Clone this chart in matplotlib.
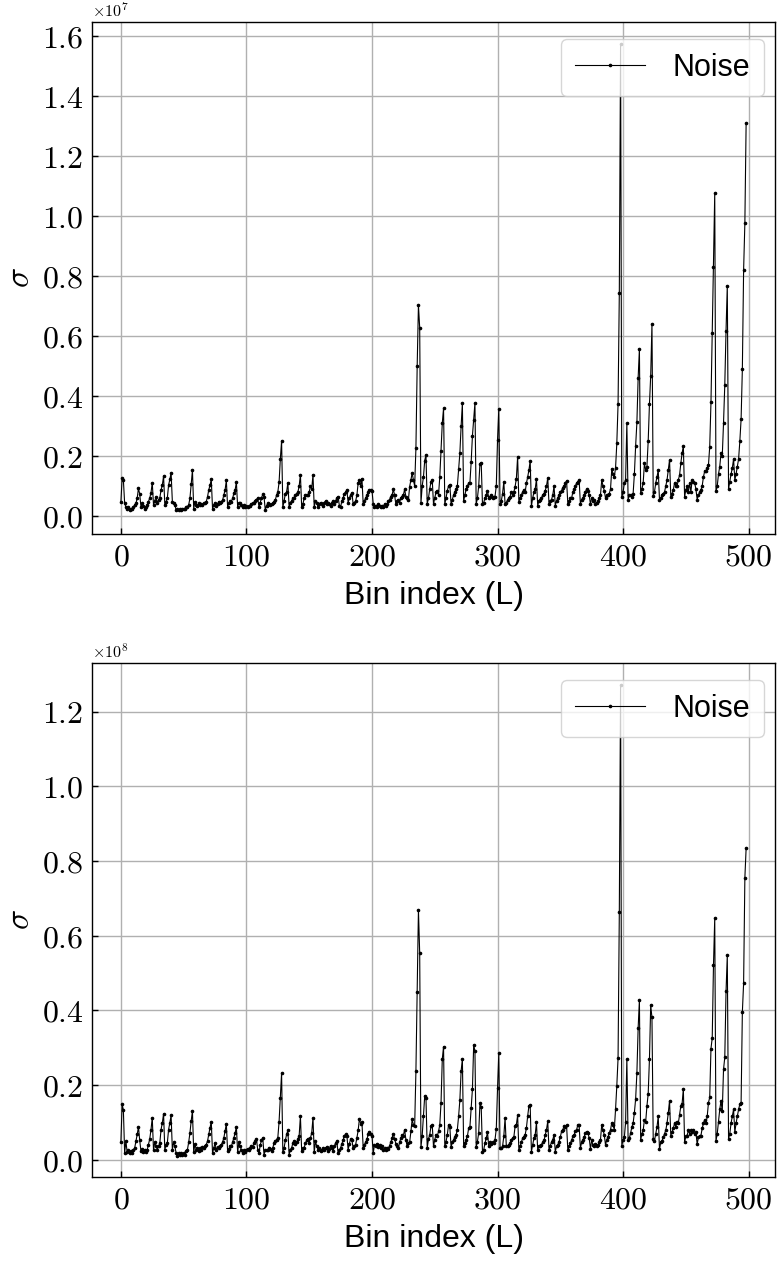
import numpy as np
import matplotlib
matplotlib.use('Agg')
import matplotlib.pyplot as plt
from matplotlib.ticker import FuncFormatter, MultipleLocator

plt.rcParams['mathtext.fontset'] = 'cm'
plt.rcParams['font.family'] = ['Liberation Sans', 'DejaVu Sans']

# ── data: noise sigma per bin (top panel in 1e7, bottom panel in 1e8) ──
sigma_top_e7 = [
    0.046, 0.126, 0.120, 0.042, 0.030, 0.022, 0.030, 0.020, 0.025, 0.022,
    0.030, 0.037, 0.042, 0.060, 0.092, 0.073, 0.030, 0.042, 0.033, 0.025,
    0.030, 0.037, 0.048, 0.060, 0.078, 0.111, 0.037, 0.050, 0.064, 0.044,
    0.053, 0.060, 0.087, 0.103, 0.133, 0.037, 0.048, 0.060, 0.103, 0.122,
    0.144, 0.048, 0.042, 0.037, 0.020, 0.022, 0.020, 0.022, 0.020, 0.025,
    0.022, 0.022, 0.029, 0.031, 0.037, 0.059, 0.107, 0.153, 0.025, 0.048,
    0.037, 0.033, 0.042, 0.037, 0.040, 0.037, 0.042, 0.044, 0.048, 0.064,
    0.087, 0.103, 0.122, 0.025, 0.037, 0.044, 0.033, 0.040, 0.048, 0.042,
    0.048, 0.053, 0.070, 0.087, 0.119, 0.031, 0.042, 0.051, 0.048, 0.059,
    0.076, 0.087, 0.113, 0.031, 0.044, 0.042, 0.037, 0.029, 0.037, 0.031,
    0.033, 0.031, 0.033, 0.035, 0.040, 0.042, 0.045, 0.050, 0.055, 0.060,
    0.030, 0.045, 0.060, 0.072, 0.065, 0.020, 0.035, 0.042, 0.040, 0.037,
    0.040, 0.044, 0.048, 0.053, 0.070, 0.080, 0.112, 0.190, 0.250, 0.030,
    0.050, 0.075, 0.080, 0.111, 0.030, 0.045, 0.050, 0.060, 0.060, 0.070,
    0.075, 0.080, 0.100, 0.138, 0.030, 0.040, 0.060, 0.070, 0.070, 0.070,
    0.080, 0.100, 0.090, 0.137, 0.030, 0.050, 0.045, 0.030, 0.040, 0.045,
    0.040, 0.035, 0.045, 0.050, 0.040, 0.045, 0.040, 0.035, 0.045, 0.050,
    0.040, 0.050, 0.060, 0.065, 0.035, 0.030, 0.050, 0.060, 0.075, 0.080,
    0.087, 0.045, 0.060, 0.070, 0.078, 0.040, 0.045, 0.050, 0.070, 0.111,
    0.120, 0.100, 0.125, 0.040, 0.050, 0.060, 0.070, 0.080, 0.087, 0.087,
    0.085, 0.040, 0.030, 0.035, 0.030, 0.040, 0.035, 0.030, 0.035, 0.030,
    0.040, 0.035, 0.040, 0.050, 0.055, 0.065, 0.070, 0.089, 0.070, 0.040,
    0.050, 0.055, 0.045, 0.060, 0.065, 0.070, 0.089, 0.065, 0.060, 0.053,
    0.098, 0.120, 0.144, 0.120, 0.100, 0.227, 0.500, 0.703, 0.628, 0.043,
    0.100, 0.130, 0.185, 0.203, 0.040, 0.060, 0.090, 0.114, 0.120, 0.040,
    0.060, 0.080, 0.085, 0.070, 0.130, 0.217, 0.310, 0.359, 0.040, 0.060,
    0.085, 0.100, 0.105, 0.040, 0.055, 0.070, 0.080, 0.090, 0.100, 0.157,
    0.210, 0.300, 0.376, 0.050, 0.070, 0.090, 0.100, 0.110, 0.110, 0.180,
    0.267, 0.320, 0.377, 0.040, 0.060, 0.100, 0.175, 0.178, 0.040, 0.045,
    0.060, 0.070, 0.085, 0.060, 0.065, 0.070, 0.060, 0.065, 0.065, 0.100,
    0.253, 0.357, 0.040, 0.050, 0.075, 0.114, 0.040, 0.045, 0.053, 0.060,
    0.065, 0.080, 0.070, 0.080, 0.098, 0.125, 0.198, 0.048, 0.060, 0.070,
    0.080, 0.087, 0.080, 0.109, 0.130, 0.153, 0.184, 0.033, 0.060, 0.080,
    0.090, 0.123, 0.035, 0.050, 0.055, 0.060, 0.070, 0.075, 0.085, 0.100,
    0.127, 0.040, 0.050, 0.055, 0.070, 0.100, 0.035, 0.050, 0.060, 0.070,
    0.080, 0.085, 0.095, 0.100, 0.110, 0.117, 0.040, 0.050, 0.060, 0.060,
    0.080, 0.090, 0.100, 0.110, 0.115, 0.120, 0.040, 0.055, 0.060, 0.070,
    0.080, 0.090, 0.085, 0.070, 0.040, 0.060, 0.050, 0.055, 0.040, 0.045,
    0.050, 0.060, 0.070, 0.120, 0.100, 0.085, 0.060, 0.070, 0.070, 0.075,
    0.090, 0.157, 0.140, 0.130, 0.160, 0.242, 0.373, 0.744, 1.573, 0.062,
    0.080, 0.110, 0.120, 0.309, 0.055, 0.070, 0.070, 0.064, 0.075, 0.140,
    0.234, 0.312, 0.461, 0.557, 0.076, 0.090, 0.110, 0.176, 0.153, 0.165,
    0.250, 0.373, 0.468, 0.640, 0.068, 0.080, 0.110, 0.130, 0.153, 0.053,
    0.060, 0.070, 0.075, 0.080, 0.100, 0.120, 0.153, 0.187, 0.064, 0.075,
    0.087, 0.110, 0.100, 0.100, 0.120, 0.137, 0.176, 0.210, 0.233, 0.064,
    0.087, 0.100, 0.080, 0.110, 0.080, 0.120, 0.115, 0.110, 0.090, 0.055,
    0.070, 0.080, 0.087, 0.100, 0.130, 0.150, 0.150, 0.160, 0.170, 0.231,
    0.379, 0.611, 0.829, 1.076, 0.083, 0.100, 0.140, 0.165, 0.210, 0.200,
    0.310, 0.437, 0.618, 0.768, 0.090, 0.115, 0.140, 0.160, 0.190, 0.120,
    0.140, 0.165, 0.190, 0.250, 0.323, 0.490, 0.820, 0.977, 1.309,
]

sigma_bottom_e8 = [
    0.047, 0.149, 0.133, 0.018, 0.050, 0.020, 0.027, 0.018, 0.024, 0.018,
    0.027, 0.032, 0.050, 0.068, 0.088, 0.052, 0.023, 0.029, 0.020, 0.027,
    0.020, 0.027, 0.041, 0.056, 0.081, 0.113, 0.025, 0.047, 0.038, 0.027,
    0.036, 0.045, 0.081, 0.099, 0.123, 0.027, 0.041, 0.045, 0.081, 0.099,
    0.119, 0.027, 0.047, 0.036, 0.018, 0.009, 0.018, 0.014, 0.018, 0.014,
    0.018, 0.014, 0.023, 0.027, 0.047, 0.072, 0.104, 0.131, 0.020, 0.043,
    0.027, 0.032, 0.023, 0.032, 0.027, 0.033, 0.032, 0.036, 0.041, 0.050,
    0.068, 0.086, 0.102, 0.018, 0.032, 0.045, 0.027, 0.033, 0.032, 0.036,
    0.041, 0.047, 0.059, 0.077, 0.097, 0.023, 0.029, 0.038, 0.036, 0.047,
    0.059, 0.072, 0.088, 0.020, 0.047, 0.036, 0.027, 0.018, 0.025, 0.020,
    0.027, 0.030, 0.027, 0.032, 0.036, 0.034, 0.045, 0.050, 0.055, 0.027,
    0.018, 0.040, 0.052, 0.059, 0.014, 0.025, 0.027, 0.025, 0.032, 0.030,
    0.023, 0.032, 0.045, 0.050, 0.054, 0.059, 0.102, 0.165, 0.232, 0.020,
    0.032, 0.052, 0.068, 0.079, 0.014, 0.027, 0.032, 0.045, 0.050, 0.043,
    0.047, 0.056, 0.065, 0.117, 0.023, 0.032, 0.032, 0.045, 0.052, 0.056,
    0.045, 0.059, 0.072, 0.112, 0.020, 0.050, 0.036, 0.027, 0.032, 0.023,
    0.027, 0.032, 0.025, 0.032, 0.034, 0.023, 0.029, 0.038, 0.032, 0.023,
    0.036, 0.045, 0.050, 0.018, 0.025, 0.032, 0.043, 0.052, 0.065, 0.068,
    0.065, 0.027, 0.043, 0.056, 0.052, 0.032, 0.036, 0.041, 0.059, 0.079,
    0.110, 0.097, 0.101, 0.032, 0.041, 0.047, 0.056, 0.068, 0.075, 0.068,
    0.065, 0.018, 0.040, 0.036, 0.043, 0.034, 0.040, 0.031, 0.036, 0.027,
    0.031, 0.025, 0.031, 0.029, 0.038, 0.047, 0.058, 0.070, 0.056, 0.043,
    0.036, 0.031, 0.047, 0.058, 0.067, 0.065, 0.081, 0.054, 0.036, 0.045,
    0.047, 0.076, 0.108, 0.094, 0.090, 0.238, 0.448, 0.669, 0.553, 0.034,
    0.065, 0.117, 0.171, 0.166, 0.031, 0.056, 0.067, 0.090, 0.092, 0.036,
    0.054, 0.067, 0.063, 0.076, 0.094, 0.153, 0.270, 0.303, 0.036, 0.049,
    0.067, 0.094, 0.088, 0.034, 0.047, 0.054, 0.061, 0.067, 0.081, 0.117,
    0.160, 0.238, 0.270, 0.038, 0.045, 0.054, 0.063, 0.085, 0.088, 0.139,
    0.189, 0.307, 0.292, 0.034, 0.049, 0.072, 0.151, 0.142, 0.022, 0.027,
    0.045, 0.058, 0.074, 0.036, 0.049, 0.043, 0.047, 0.045, 0.054, 0.083,
    0.191, 0.285, 0.031, 0.031, 0.036, 0.063, 0.112, 0.036, 0.038, 0.040,
    0.045, 0.054, 0.058, 0.061, 0.090, 0.094, 0.119, 0.027, 0.036, 0.047,
    0.058, 0.061, 0.067, 0.085, 0.117, 0.144, 0.146, 0.022, 0.040, 0.058,
    0.067, 0.100, 0.025, 0.038, 0.038, 0.041, 0.047, 0.052, 0.067, 0.081,
    0.103, 0.027, 0.038, 0.047, 0.054, 0.067, 0.022, 0.036, 0.040, 0.049,
    0.061, 0.076, 0.081, 0.090, 0.088, 0.092, 0.025, 0.036, 0.045, 0.052,
    0.063, 0.067, 0.076, 0.081, 0.094, 0.092, 0.031, 0.047, 0.054, 0.061,
    0.072, 0.075, 0.072, 0.058, 0.030, 0.052, 0.040, 0.036, 0.043, 0.036,
    0.040, 0.047, 0.054, 0.094, 0.081, 0.067, 0.040, 0.054, 0.061, 0.072,
    0.081, 0.099, 0.092, 0.081, 0.135, 0.198, 0.272, 0.663, 1.270, 0.038,
    0.054, 0.060, 0.100, 0.270, 0.054, 0.058, 0.072, 0.088, 0.098, 0.126,
    0.163, 0.233, 0.353, 0.428, 0.053, 0.070, 0.079, 0.107, 0.102, 0.144,
    0.177, 0.270, 0.414, 0.381, 0.056, 0.051, 0.070, 0.088, 0.116, 0.028,
    0.047, 0.051, 0.060, 0.070, 0.079, 0.098, 0.126, 0.158, 0.065, 0.074,
    0.084, 0.098, 0.088, 0.102, 0.098, 0.121, 0.144, 0.150, 0.190, 0.047,
    0.063, 0.065, 0.079, 0.070, 0.079, 0.074, 0.079, 0.070, 0.074, 0.042,
    0.060, 0.065, 0.065, 0.084, 0.098, 0.107, 0.098, 0.116, 0.153, 0.167,
    0.298, 0.326, 0.521, 0.647, 0.051, 0.070, 0.102, 0.135, 0.158, 0.130,
    0.242, 0.274, 0.451, 0.547, 0.056, 0.070, 0.098, 0.116, 0.135, 0.074,
    0.098, 0.116, 0.135, 0.149, 0.153, 0.395, 0.473, 0.755, 0.834,
]

panels = [
    (sigma_top_e7, 7, (-0.06, 1.647)),
    (sigma_bottom_e8, 8, (-0.046, 1.33)),
]

fig = plt.figure(figsize=(7.77, 12.61), dpi=100)
boxes = [
    [92 / 777, 1 - 534 / 1261, 683 / 777, 512 / 1261],
    [92 / 777, 1 - 1177 / 1261, 683 / 777, 514 / 1261],
]

for (sigma, exp10, ylim), box in zip(panels, boxes):
    ax = fig.add_axes(box)
    bins = np.arange(len(sigma))
    ax.plot(bins, sigma, color='black', linewidth=0.8, marker='.',
            markersize=3.2, label='Noise')

    ax.set_xlim(-23, 521)
    ax.set_ylim(*ylim)
    ax.xaxis.set_major_locator(MultipleLocator(100))
    ax.yaxis.set_major_locator(MultipleLocator(0.2))
    ax.xaxis.set_major_formatter(FuncFormatter(lambda v, p: r'$%d$' % round(v)))
    ax.yaxis.set_major_formatter(FuncFormatter(lambda v, p: r'$%.1f$' % v))
    ax.tick_params(direction='in', length=4, width=1, labelsize=23,
                   top=False, right=False, pad=6)

    ax.grid(True, color='#b0b0b0', linewidth=1)
    ax.set_axisbelow(True)
    for s in ax.spines.values():
        s.set_linewidth(1)

    ax.set_xlabel('Bin index (L)', fontsize=23, labelpad=6)
    ax.set_ylabel(r'$\sigma$', fontsize=24, labelpad=4)
    ax.text(0.0, 1.004, r'$\times10^{%d}$' % exp10, transform=ax.transAxes,
            fontsize=11.5, ha='left', va='bottom')

    ax.legend(loc='upper right', bbox_to_anchor=(0.984, 0.967), fontsize=22,
              handlelength=2.3, handletextpad=0.9, borderpad=0.45,
              framealpha=0.8, borderaxespad=0.0)

fig.savefig('out.png', dpi=100)
plt.close()
